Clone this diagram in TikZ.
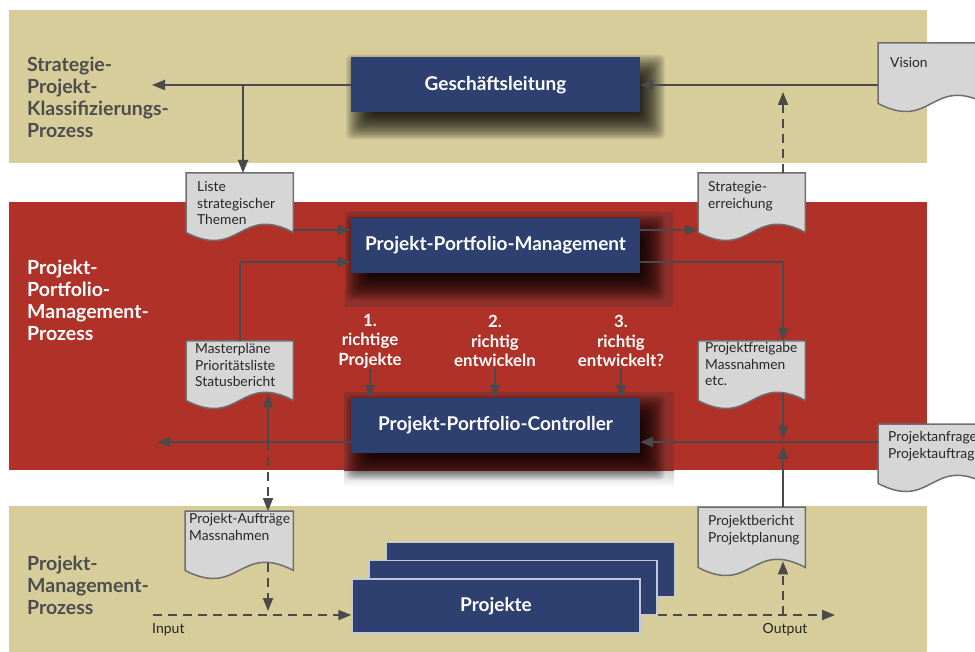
\documentclass[tikz,border=0pt]{standalone}
\usepackage{fontspec}
\setmainfont{Lato}
\usetikzlibrary{arrows.meta,calc}
\definecolor{bandtan}{HTML}{D6CD9B}
\definecolor{bandred}{HTML}{B03128}
\definecolor{deepred}{HTML}{8E302B}
\definecolor{boxnavy}{HTML}{2E4070}
\definecolor{docgray}{HTML}{D6D6D6}
\definecolor{docedge}{HTML}{6E6E6E}
\definecolor{arrgray}{HTML}{4A4A4A}
\definecolor{labgray}{HTML}{4D4D4D}
\definecolor{projedge}{HTML}{C3C7D9}
\tikzset{
  navybox/.style={fill=boxnavy, text=white, font=\bfseries\fontsize{19}{22}\selectfont,
    minimum width=289, minimum height=55, inner sep=0pt},
  projbox/.style={fill=boxnavy, draw=projedge, line width=1.5pt, text=white,
    font=\bfseries\fontsize{19}{22}\selectfont, minimum width=288, minimum height=54, inner sep=0pt},
  bandlabel/.style={font=\bfseries\fontsize{19.5}{22}\selectfont, align=left, inner sep=0pt, anchor=west},
  numlabel/.style={font=\bfseries\fontsize{16.8}{19.5}\selectfont, text=white, align=center, inner sep=1pt},
  docbody/.style={inner sep=0pt, anchor=north west},
  docline/.style={fill=docgray, draw=docedge, line width=1.5pt},
  doctext/.style={font=\fontsize{13.8}{16.8}\selectfont, text=black!85, align=left, inner sep=0pt, anchor=north west},
  arr/.style={draw=arrgray, line width=1.8pt, -{Triangle[length=13pt,width=10pt]}},
  dsh/.style={dash pattern=on 9pt off 6pt},
  plainlab/.style={font=\fontsize{14}{16}\selectfont, text=black!85, inner sep=0pt}
}
\newcommand\mydoc[8]{%
  \node[docbody, minimum width={#4-#2}, minimum height={#5-#3}] (#1) at (#2,#3) {};
  \draw[docline] (#1.north west) -- (#1.north east) -- (#1.south east)
    .. controls ($(#1.south east)!0.5!(#1.south west)+(0,-28)$) and ($(#1.south east)!0.5!(#1.south west)+(0,28)$) .. (#1.south west) -- cycle;
  \node[doctext] (#1-t) at (#6,#7) {#8};
}
\newcommand\blurshadow[1]{%
  \foreach \e in {-15,-14,...,15}{%
    \fill[black,opacity=0.055,rounded corners=6pt] ($(#1.north west)+(10+\e,12+\e)$) rectangle ($(#1.south east)+(10-\e,12-\e)$);
  }%
}
\begin{document}
\begin{tikzpicture}[x=1pt,y=-1pt]
\useasboundingbox (0,0) rectangle (975,652);
\clip (0,0) rectangle (975,652);
\fill[white] (0,0) rectangle (975,652);
% bands
\fill[bandtan] (9,10) rectangle (927,163);
\fill[bandred] (9,202) rectangle (927,470);
\fill[bandtan] (9,506) rectangle (927,652);
% darker regions behind boxes
\fill[deepred] (345,212) rectangle (673,307);
\fill[deepred] (344,392) rectangle (674,471);
\shade[top color=black!18, bottom color=white] (344,471) rectangle (674,487);
% band labels
\node[bandlabel, text=labgray] (lab1) at (27,97) {Strategie-\\Projekt-\\Klassifizierungs-\\Prozess};
\node[bandlabel, text=white] (lab2) at (27,300) {Projekt-\\Portfolio-\\Management-\\Prozess};
\node[bandlabel, text=labgray] (lab3) at (27,585) {Projekt-\\Management-\\Prozess};
% shadow placeholders
\path (495.5,85) node[minimum width=289, minimum height=55, inner sep=0pt] (glS) {};
\path (495.5,245.5) node[minimum width=289, minimum height=55, inner sep=0pt] (ppmS) {};
\path (495.5,425.5) node[minimum width=289, minimum height=55, inner sep=0pt] (ppcS) {};
\blurshadow{glS}
\blurshadow{ppmS}
\blurshadow{ppcS}
% main boxes
\node[navybox] (gl) at (495.5,85) {Geschäftsleitung};
\node[navybox] (ppm) at (495.5,245.5) {Projekt-Portfolio-Management};
\node[navybox] (ppc) at (495.5,425.5) {Projekt-Portfolio-Controller};
% Projekte stack
\node[projbox] (proj3) at (530.5,569.5) {};
\node[projbox] (proj2) at (513,587.5) {};
\node[projbox] (proj1) at (496,606) {Projekte};
% documents
\mydoc{liste}{186}{173}{293}{232}{197}{181}{Liste\\strategischer\\Themen}
\mydoc{vision}{878}{43}{985}{103}{890}{57}{Vision}
\mydoc{ser}{698}{173}{805}{232}{708}{181}{Strategie-\\erreichung}
\mydoc{master}{186}{341}{293}{400}{195}{343}{Masterpläne\\Prioritätsliste\\Statusbericht}
\mydoc{pfg}{698}{341}{805}{400}{705}{342}{Projektfreigabe\\Massnahmen\\etc.}
\mydoc{panf}{878}{424}{985}{483}{888}{431}{Projektanfrage\\Projektauftrag}
\mydoc{pauf}{185}{511}{293}{570}{189}{513}{Projekt-Aufträge\\Massnahmen}
\mydoc{pber}{698}{507}{805}{567}{708}{515}{Projektbericht\\Projektplanung}
% numbered labels
\node[numlabel] (n1) at (370,341) {1.\\richtige\\Projekte};
\node[numlabel] (n2) at (495,341) {2.\\richtig\\entwickeln};
\node[numlabel] (n3) at (621,341) {3.\\richtig\\entwickelt?};
% coordinates
\coordinate (leftA) at (152,85);
\coordinate (brA) at (243,85);
\coordinate (se) at (783,92);
\coordinate (ppmA) at ($(ppm.west)+(0,-15.5)$);
\coordinate (ppmB) at ($(ppm.west)+(0,16.5)$);
\coordinate (ppmC) at ($(ppm.east)+(0,-15.5)$);
\coordinate (ppmD) at ($(ppm.east)+(0,16.5)$);
\coordinate (ppcL) at ($(ppc.west)+(0,16.5)$);
\coordinate (ppcR) at ($(ppc.east)+(0,16.5)$);
\coordinate (leftB) at (157,442);
\coordinate (m268) at (268,442);
\coordinate (m783) at (783,446);
\coordinate (inS) at (153,615);
\coordinate (outE) at (835,615);
\coordinate (pin) at (268,611);
% connectors
\draw[arr] (gl.west) -- (leftA);
\draw[arr] (brA) -- (brA |- liste.north);
\draw[arr] (vision.west |- gl.east) -- (gl.east);
\draw[arr, dsh] (se |- ser.north) -- (se);
\draw[arr] (liste.east |- ppmA) -- (ppmA);
\draw[arr] (master.north) |- (ppmB);
\draw[arr] (ppmC) -- (ser.west |- ppmC);
\draw[arr] (ppmD) -| (se |- pfg.north);
\draw[arr] (n1.south) -- (n1.south |- ppc.north);
\draw[arr] (n2.south) -- (n2.south |- ppc.north);
\draw[arr] (n3.south) -- (n3.south |- ppc.north);
\draw[arr] (ppcL) -- (leftB);
\draw[arr] (panf.west |- ppcR) -- (ppcR);
\draw[arr] ($(se |- pfg.south)+(0,-7)$) -- ($(se |- ppcR)+(0,-3)$);
\draw[arr] (se |- pber.north) -- (m783);
\draw[arr] (m268) -- ($(m268 |- master.south)+(0,-6)$);
\draw[arr, dsh] (m268) -- (m268 |- pauf.north);
\draw[arr, dsh] ($(m268 |- pauf.south)+(0,-7)$) -- (pin);
\draw[arr, dsh] (inS) -- (inS -| proj1.west);
\draw[arr, dsh] (proj2.east |- inS) -- (outE);
\draw[arr, dsh] (se |- inS) -- ($(se |- pber.south)+(0,-6)$);
% input / output labels
\node[plainlab, anchor=west] (inL) at (152,630) {Input};
\node[plainlab] (outL) at (785,630) {Output};
\end{tikzpicture}
\end{document}
